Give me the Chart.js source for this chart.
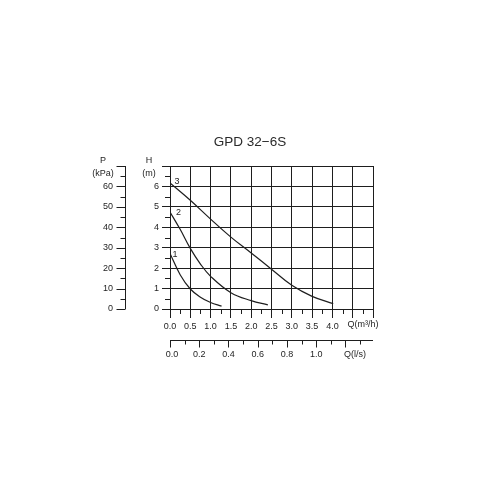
<!DOCTYPE html>
<html>
<head>
<meta charset="utf-8">
<script src="https://cdn.jsdelivr.net/npm/chart.js@4"></script>
<style>
  body { margin: 0; background: #fff; }
  canvas { display: block; }
</style>
</head>
<body>
<canvas id="chart" width="500" height="500"></canvas>
<script>
// pump curves, Q in m3/h, H in m
const q1 = [0, 0.25, 0.5, 0.75, 1.0, 1.27];
const h1 = [2.72, 1.68, 0.98, 0.58, 0.32, 0.14];
const q2 = [0, 0.25, 0.5, 0.75, 1.0, 1.5, 2.0, 2.41];
const h2 = [4.75, 3.9, 2.97, 2.2, 1.6, 0.8, 0.41, 0.2];
const q3 = [0, 0.5, 1.0, 1.5, 2.0, 2.5, 3.0, 3.5, 4.02];
const h3 = [6.17, 5.32, 4.4, 3.52, 2.74, 1.95, 1.16, 0.62, 0.26];
const curveNames = ['1', '2', '3'];

// secondary axes
const kpaTicks = [0, 10, 20, 30, 40, 50, 60];
const kpaPerM = 10;
const lsTicks = [0.0, 0.2, 0.4, 0.6, 0.8, 1.0];
const m3hPerLs = 3.6;

const title = 'GPD 32\u22126S';
const FONT = "'Liberation Sans', Arial, sans-serif";
const INK = '#1e1e1e';

function pts(qs, hs) {
  return qs.map((q, i) => ({ x: q, y: hs[i] }));
}

const extras = {
  id: 'extras',
  afterDraw(chart) {
    const ctx = chart.ctx;
    const x = chart.scales.x;
    const y = chart.scales.y;
    const a = chart.chartArea;
    ctx.save();
    ctx.strokeStyle = INK;
    ctx.fillStyle = INK;
    ctx.lineWidth = 1;

    // minor ticks on main axes
    ctx.beginPath();
    for (let v = 0.25; v < 5; v += 0.5) {
      const px = Math.round(x.getPixelForValue(v)) + 0.5;
      ctx.moveTo(px, a.bottom);
      ctx.lineTo(px, a.bottom + 5);
    }
    for (let v = 0.5; v < 7; v += 1) {
      const py = Math.round(y.getPixelForValue(v)) + 0.5;
      ctx.moveTo(a.left - 5, py);
      ctx.lineTo(a.left, py);
    }
    ctx.stroke();

    // P (kPa) axis
    const px0 = 125.5;
    ctx.beginPath();
    ctx.moveTo(px0, y.getPixelForValue(7));
    ctx.lineTo(px0, y.getPixelForValue(0));
    for (let p = 0; p <= 70; p += 5) {
      const py = Math.round(y.getPixelForValue(p / kpaPerM)) + 0.5;
      const len = p % 10 === 0 ? 9 : 5;
      ctx.moveTo(px0 - len, py);
      ctx.lineTo(px0, py);
    }
    ctx.stroke();
    ctx.font = '9px ' + FONT;
    ctx.textAlign = 'right';
    ctx.textBaseline = 'middle';
    kpaTicks.forEach(p => {
      ctx.fillText(String(p), 113, y.getPixelForValue(p / kpaPerM));
    });

    // Q (l/s) axis
    const qy = 340.5;
    const qMax = 5 / m3hPerLs;
    ctx.beginPath();
    ctx.moveTo(x.getPixelForValue(0), qy);
    ctx.lineTo(x.getPixelForValue(5), qy);
    for (let i = 0; i / 10 <= qMax; i++) {
      const px = Math.round(x.getPixelForValue(i / 10 * m3hPerLs)) + 0.5;
      const len = i % 2 === 0 ? 7 : 4;
      ctx.moveTo(px, qy);
      ctx.lineTo(px, qy + len);
    }
    ctx.stroke();
    ctx.textAlign = 'center';
    lsTicks.forEach(v => {
      ctx.fillText(v.toFixed(1), x.getPixelForValue(v * m3hPerLs) + (v === 0 ? 2 : 0), 355);
    });
    ctx.fillText('Q(l/s)', 355, 355);
    ctx.fillText('Q(m\u00b3/h)', 363, 325);

    // axis titles
    ctx.fillText('P', 103, 161);
    ctx.fillText('(kPa)', 103, 174);
    ctx.fillText('H', 149, 161);
    ctx.fillText('(m)', 149, 174);

    // curve numbers
    const offs = [[5, 1], [8.5, 1], [7, -1]];
    chart.data.datasets.forEach((ds, i) => {
      const p0 = ds.data[0];
      ctx.fillText(curveNames[i], x.getPixelForValue(p0.x) + offs[i][0], y.getPixelForValue(p0.y) + offs[i][1]);
    });

    // title
    ctx.font = '13.5px ' + FONT;
    ctx.fillStyle = '#2a2a2a';
    ctx.fillText(title, 250, 142);
    ctx.restore();
  }
};

const curve = {
  borderColor: INK,
  borderWidth: 1.2,
  pointRadius: 0,
  fill: false,
  tension: 0.4
};

new Chart(document.getElementById('chart'), {
  type: 'line',
  data: {
    datasets: [
      { ...curve, label: curveNames[0], data: pts(q1, h1) },
      { ...curve, label: curveNames[1], data: pts(q2, h2) },
      { ...curve, label: curveNames[2], data: pts(q3, h3) }
    ]
  },
  options: {
    responsive: false,
    animation: false,
    devicePixelRatio: 1,
    layout: { padding: { left: 140, right: 127, top: 166, bottom: 161 } },
    plugins: { legend: { display: false }, tooltip: { enabled: false } },
    scales: {
      x: {
        type: 'linear',
        min: 0,
        max: 5,
        afterFit(s) { s.height = 30; },
        ticks: {
          stepSize: 0.5,
          autoSkip: false,
          maxRotation: 0,
          padding: 3,
          color: INK,
          font: { family: FONT, size: 9 },
          callback: v => (v <= 4 ? v.toFixed(1) : '')
        },
        grid: { color: INK, lineWidth: 1, tickLength: 9 },
        border: { color: INK, width: 1 }
      },
      y: {
        type: 'linear',
        min: 0,
        max: 7,
        afterFit(s) { s.width = 30; },
        ticks: {
          stepSize: 1,
          padding: 3,
          color: INK,
          font: { family: FONT, size: 9 },
          callback: v => (v <= 6 ? String(v) : '')
        },
        grid: { color: INK, lineWidth: 1, tickLength: 8 },
        border: { color: INK, width: 1 }
      }
    }
  },
  plugins: [extras]
});
</script>
</body>
</html>
